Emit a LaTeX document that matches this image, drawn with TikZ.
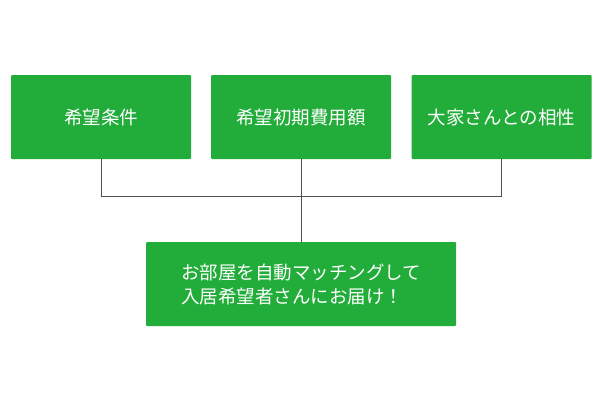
\documentclass[tikz,border=0pt]{standalone}
\usepackage{fontspec}
\newfontfamily\jpfont{Noto Sans CJK JP}
\definecolor{boxgreen}{RGB}{34,172,58}
\definecolor{linegray}{RGB}{80,80,80}

\begin{document}
\begin{tikzpicture}[x=1pt,y=1pt]

    % Define styles
    \tikzset{
        condition box/.style={fill=boxgreen, draw=none, rounded corners=1pt,
            minimum width=180pt, minimum height=84pt, inner sep=0pt,
            text=white, font=\jpfont\fontsize{18.5}{24}\selectfont},
        result box/.style={condition box, minimum width=310pt, align=left},
        link line/.style={draw=linegray, line width=1pt}
    }

    % Fix the page size
    \useasboundingbox (0,0) rectangle (600,400);

    % Conditions (top row)
    \node[condition box] (wish) at (101,283) {希望条件};
    \node[condition box] (cost) at (301,283) {希望初期費用額};
    \node[condition box] (owner) at (501.5,283) {大家さんとの相性};

    % Result (bottom)
    \node[result box] (match) at (301,116) {お部屋を自動マッチングして\\入居希望者さんにお届け！};

    % Connectors
    \draw[link line] (wish.south) -- ++(0,-37) -| (match.north);
    \draw[link line] (owner.south) -- ++(0,-37) -| (match.north);
    \draw[link line] (cost.south) -- (match.north);

\end{tikzpicture}
\end{document}
